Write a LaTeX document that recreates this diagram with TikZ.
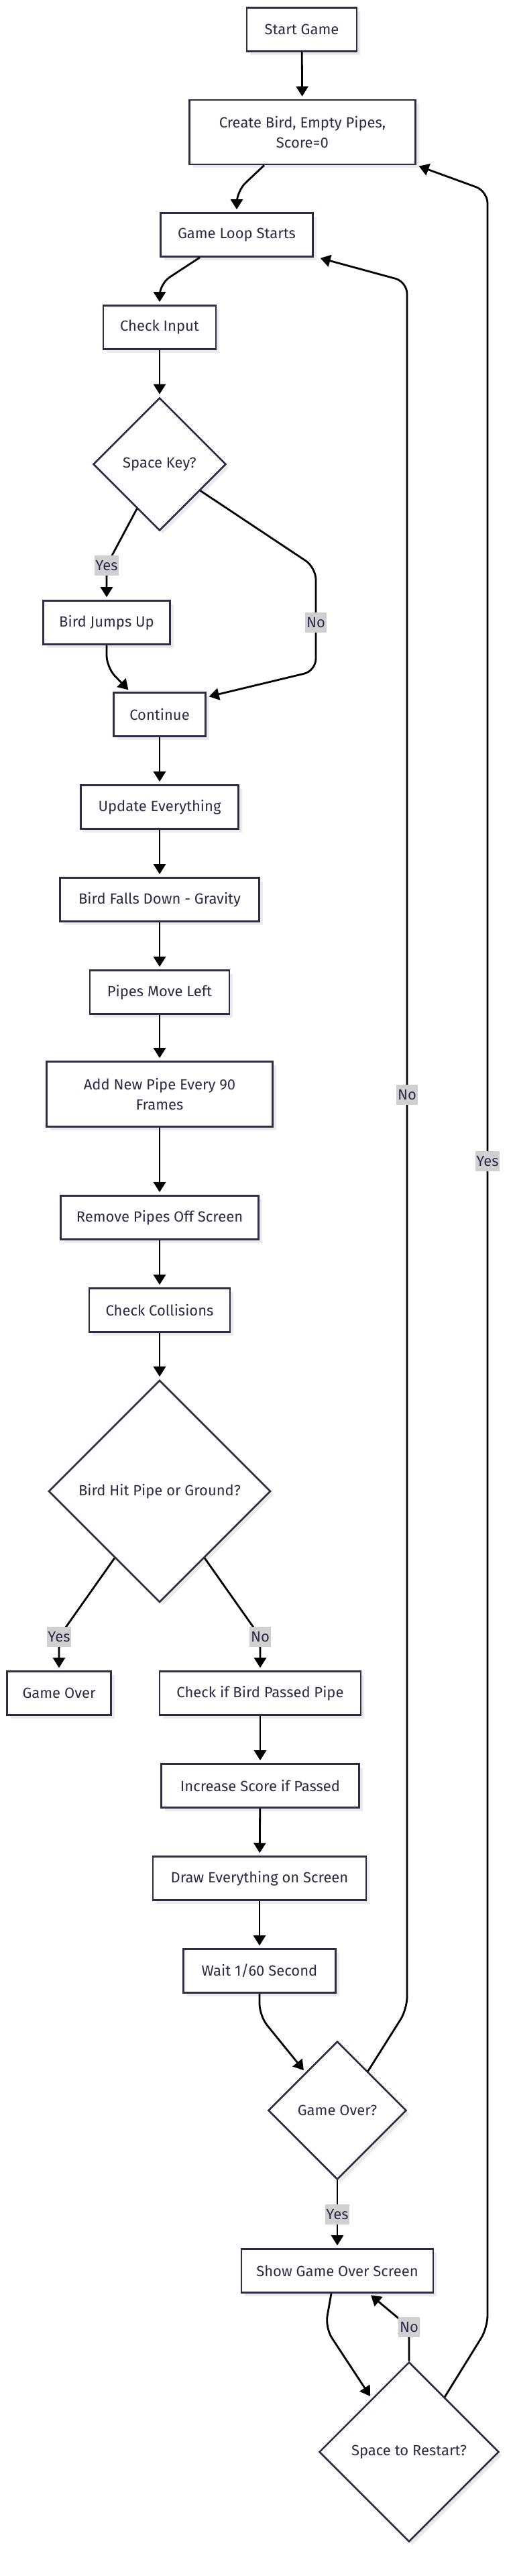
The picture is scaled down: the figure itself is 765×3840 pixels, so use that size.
\documentclass[tikz,border=0pt]{standalone}
\usepackage{fontspec}
\setmainfont{Fira Sans}
\usepackage{tikz}
\usetikzlibrary{shapes.geometric, arrows.meta, shadows}
\definecolor{NodeInk}{HTML}{2D2B45}
\definecolor{LabelGray}{HTML}{D0D0D0}
\definecolor{ShadowGray}{HTML}{EBEBEB}

\tikzset{
    procbox/.style={draw=NodeInk, line width=1.3pt, fill=white, text=NodeInk,
        minimum height=32.5pt, inner sep=0pt, align=center,
        font=\fontsize{11}{15}\selectfont,
        drop shadow={shadow xshift=2.5pt, shadow yshift=-2.5pt, fill=ShadowGray, opacity=1}},
    decision/.style={procbox, diamond, aspect=1},
    flow/.style={draw=black, line width=1.4pt, rounded corners=9pt, shorten >=2pt,
        -{Triangle[length=7.5pt, width=9pt]}},
    lbl/.style={fill=LabelGray, text=NodeInk, sharp corners, inner xsep=0.8pt, inner ysep=0pt,
        minimum height=15pt, font=\fontsize{11}{15}\selectfont}
}

\begin{document}
\begin{tikzpicture}[x=0.5pt, y=-0.5pt]
    \useasboundingbox (0,0) rectangle (765,3840);

    % main column
    \node[procbox, minimum width=82pt] (start) at (450,44) {Start Game};
    \node[procbox, minimum width=168.5pt, minimum height=48pt] (init) at (451,197)
        {Create Bird, Empty Pipes,\\Score=0};
    \node[procbox, minimum width=113.5pt] (loop) at (353,350) {Game Loop Starts};
    \node[procbox, minimum width=84pt] (input) at (238,488) {Check Input};
    \node[decision, minimum size=99pt] (spacekey) at (238,692) {Space Key?};
    \node[procbox, minimum width=94.5pt] (jump) at (159,928) {Bird Jumps Up};
    \node[procbox, minimum width=68.5pt] (cont) at (238,1065) {Continue};
    \node[procbox, minimum width=117.5pt] (update) at (238,1203) {Update Everything};
    \node[procbox, minimum width=148.5pt] (gravity) at (238,1341) {Bird Falls Down - Gravity};
    \node[procbox, minimum width=104pt] (pipesleft) at (238,1479) {Pipes Move Left};
    \node[procbox, minimum width=168.5pt, minimum height=48.5pt] (addpipe) at (238,1631)
        {Add New Pipe Every 90\\Frames};
    \node[procbox, minimum width=147.5pt] (removepipes) at (238,1815) {Remove Pipes Off Screen};
    \node[procbox, minimum width=105pt] (collide) at (238,1953) {Check Collisions};
    \node[decision, minimum size=165.5pt] (hit) at (238,2223) {Bird Hit Pipe or Ground?};

    % branches after the collision test
    \node[procbox, minimum width=77.5pt] (over) at (88,2524) {Game Over};
    \node[procbox, minimum width=150pt] (passed) at (388,2524) {Check if Bird Passed Pipe};
    \node[procbox, minimum width=147.5pt] (score) at (388,2662) {Increase Score if Passed};
    \node[procbox, minimum width=159pt] (drawall) at (387,2800) {Draw Everything on Screen};
    \node[procbox, minimum width=113.5pt] (wait) at (387,2938) {Wait 1/60 Second};
    \node[decision, minimum size=103pt] (isover) at (503,3146) {Game Over?};
    \node[procbox, minimum width=143pt] (overscreen) at (503,3385) {Show Game Over Screen};
    \node[decision, minimum size=134pt] (restart) at (610,3655) {Space to Restart?};

    \foreach \a/\b in {start/init, input/spacekey, cont/update, update/gravity,
            gravity/pipesleft, pipesleft/addpipe, addpipe/removepipes,
            removepipes/collide, collide/hit, passed/score, score/drawall, drawall/wait}
        \draw[flow] (\a) -- (\b);

    \draw[flow] ([xshift=-28.5pt]init.south) -- (353,285) -- (loop.north);
    \draw[flow] ([xshift=-27.5pt]loop.south) -- (238,423) -- (input.north);

    \draw[flow] (spacekey.243) -- (159,843) node[lbl] {Yes} -- (jump.north);
    \draw[flow] (spacekey.327) -- (471,846) -- (471,928) node[lbl] {No}
        -- (471,1000) -- ([yshift=-4pt]cont.north east);
    \draw[flow] (jump.south) -- (159,995) -- ([xshift=13pt]cont.north west);

    \draw[flow] (hit.236) -- (88,2440) node[lbl] {Yes} -- (over.north);
    \draw[flow] (hit.304) -- (388,2440) node[lbl] {No} -- (passed.north);

    \draw[flow] (wait.south) -- (387,3005) -- (isover.130);
    \draw[flow] (isover.52) -- (607,2995) -- (607,1632) node[lbl] {No}
        -- (607,420) -- ([xshift=3pt]loop.south east);
    \draw[flow] (isover) -- node[lbl] {Yes} (overscreen);

    \draw[flow] ([xshift=-4.5pt]overscreen.south) -- (485,3470) -- (restart.125);
    \draw[flow] (restart.north) -- (610,3469) node[lbl] {No} -- ([xshift=23.5pt]overscreen.south);
    \draw[flow] (restart.57) -- (727,3470) -- (727,1731) node[lbl] {Yes}
        -- (727,285) -- (init.south east);
\end{tikzpicture}
\end{document}
